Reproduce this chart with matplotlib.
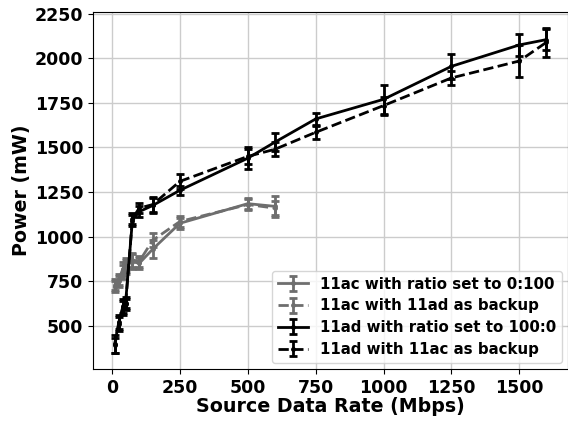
import matplotlib
matplotlib.use("Agg")
import matplotlib.pyplot as plt

# rate (Mbps) and power (mW) for each configuration
ac_rate = [10, 25, 40, 50, 75, 100, 150, 250, 500, 600]
ac_ratio = [720, 760, 820, 840, 860, 850, 930, 1075, 1185, 1170]
ac_ratio_err = [30, 30, 40, 40, 40, 30, 50, 30, 30, 60]
ac_backup = [730, 750, 800, 830, 870, 860, 980, 1085, 1180, 1160]
ac_backup_err = [30, 30, 40, 40, 40, 30, 40, 30, 30, 40]

ad_rate = [10, 25, 40, 50, 75, 100, 150, 250, 500, 600, 750, 1000, 1250, 1500, 1600]
ad_ratio = [400, 520, 600, 630, 1090, 1140, 1175, 1260, 1440, 1530, 1660, 1770, 1955, 2075, 2105]
ad_ratio_err = [50, 40, 40, 30, 30, 30, 40, 25, 60, 50, 35, 80, 70, 60, 60]
ad_backup = [390, 510, 610, 620, 1100, 1160, 1180, 1310, 1450, 1490, 1585, 1735, 1890, 1985, 2090]
ad_backup_err = [40, 40, 40, 30, 30, 30, 40, 40, 40, 40, 35, 50, 40, 90, 80]

gray = "#6e6e6e"

fig = plt.figure(figsize=(5.68, 4.21), dpi=100)
ax = fig.add_axes([0.164, 0.124, 0.836, 0.848])

kw = dict(linewidth=2, marker=".", markersize=5, capsize=3, capthick=2, elinewidth=2)
ax.errorbar(ac_rate, ac_ratio, yerr=ac_ratio_err, color=gray, linestyle="-",
            label="11ac with ratio set to 0:100", **kw)
ax.errorbar(ac_rate, ac_backup, yerr=ac_backup_err, color=gray, linestyle="--",
            label="11ac with 11ad as backup", **kw)
ax.errorbar(ad_rate, ad_ratio, yerr=ad_ratio_err, color="black", linestyle="-",
            label="11ad with ratio set to 100:0", **kw)
ax.errorbar(ad_rate, ad_backup, yerr=ad_backup_err, color="black", linestyle="--",
            label="11ad with 11ac as backup", **kw)

ax.set_ylim(259, 2261)
ax.set_xticks([0, 250, 500, 750, 1000, 1250, 1500])
ax.set_yticks([500, 750, 1000, 1250, 1500, 1750, 2000, 2250])
ax.grid(True, color="#cccccc", linewidth=1)
ax.set_axisbelow(True)

for lbl in ax.get_xticklabels() + ax.get_yticklabels():
    lbl.set_fontweight("bold")
    lbl.set_fontsize(12.5)

ax.set_xlabel("Source Data Rate (Mbps)", fontsize=13.7, fontweight="bold", labelpad=0)
ax.set_ylabel("Power (mW)", fontsize=13.7, fontweight="bold", labelpad=3)

ax.legend(loc="lower right", prop={"weight": "bold", "size": 10.8},
          handlelength=2, borderaxespad=0.4, labelspacing=0.45)

fig.savefig("out.png", dpi=100)
